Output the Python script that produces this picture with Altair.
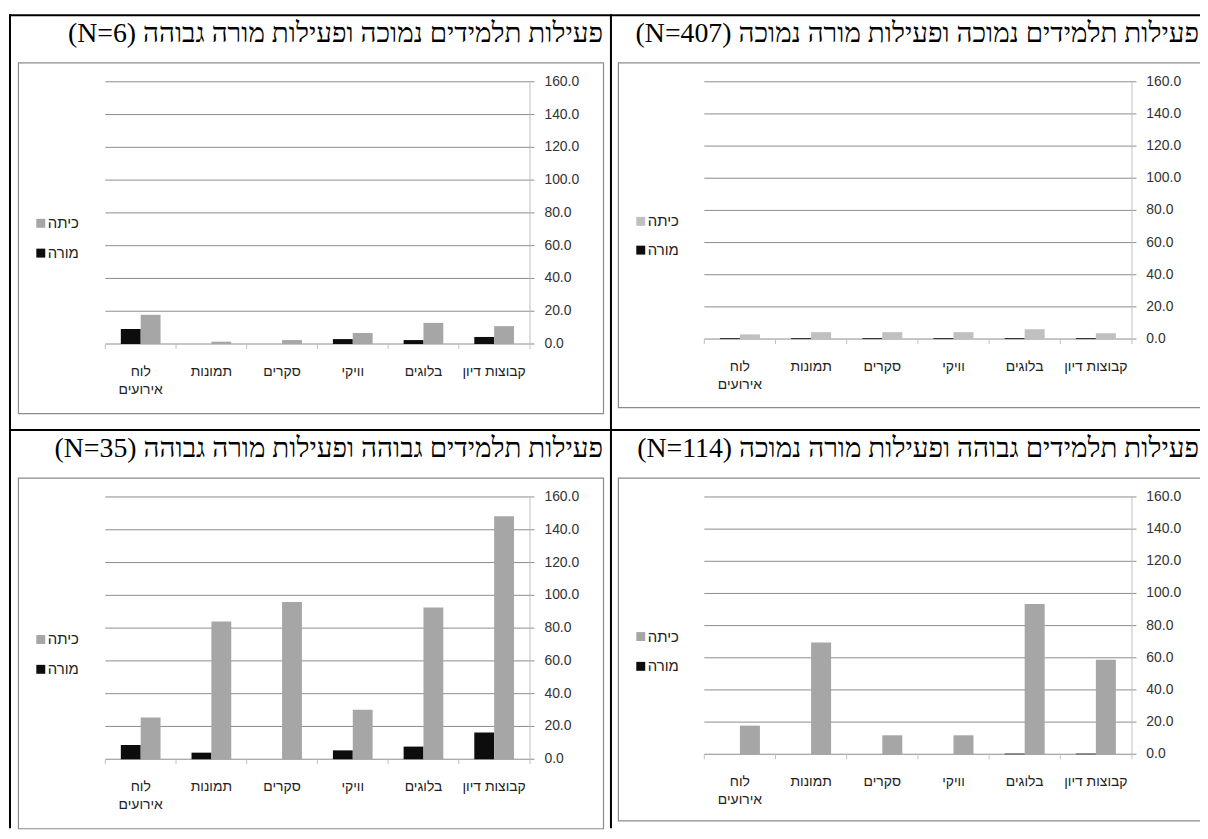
import altair as alt
import pandas as pd

# ---------------- data ----------------
categories = ['לוח אירועים', 'תמונות', 'סקרים', 'וויקי', 'בלוגים', 'קבוצות דיון']
category_labels = ['לוח\nאירועים', 'תמונות', 'סקרים', 'וויקי', 'בלוגים', 'קבוצות דיון']
series = ['מורה', 'כיתה']
legend_order = ['כיתה', 'מורה']
y_ticks = [0, 20, 40, 60, 80, 100, 120, 140, 160]

titles = [
    'פעילות תלמידים נמוכה ופעילות מורה גבוהה (N=6)',
    'פעילות תלמידים נמוכה ופעילות מורה נמוכה (N=407)',
    'פעילות תלמידים גבוהה ופעילות מורה גבוהה (N=35)',
    'פעילות תלמידים גבוהה ופעילות מורה נמוכה (N=114)',
]

# panel 1: low students / high teacher (N=6)
teacher_n6 = [9.1, 0.0, 0.0, 3.0, 2.4, 4.3]
class_n6 = [17.8, 1.4, 2.4, 6.7, 12.9, 10.9]
# panel 2: low students / low teacher (N=407)
teacher_n407 = [0.5, 0.5, 0.5, 0.5, 0.5, 0.5]
class_n407 = [2.9, 4.3, 4.3, 4.3, 6.1, 3.6]
# panel 3: high students / high teacher (N=35)
teacher_n35 = [8.7, 4.0, 0.0, 5.4, 7.7, 16.3]
class_n35 = [25.4, 84.1, 96.0, 30.2, 92.5, 148.2]
# panel 4: high students / low teacher (N=114)
teacher_n114 = [0.0, 0.0, 0.0, 0.0, 0.4, 0.4]
class_n114 = [17.8, 69.5, 11.8, 11.8, 93.4, 58.7]

panel_values = [
    (teacher_n6, class_n6),
    (teacher_n407, class_n407),
    (teacher_n35, class_n35),
    (teacher_n114, class_n114),
]

# ---------------- layout (pixels inside the chart) ----------------
layout = [
    dict(x0=98, x1=525, y0=335.5, yt=71.5, tx=599, ty=23, box=(10.5, 599.5, 52.5, 405.5),
         sqx=33, ltx=40, ly=(214, 244), gray='#A6A6A6'),
    dict(x0=701, x1=1131, y0=330.5, yt=71.5, tx=1199, ty=23, box=(614.5, 1216, 52.5, 399.5),
         sqx=637, ltx=644, ly=(212, 241), gray='#C0C0C0'),
    dict(x0=98, x1=525, y0=753.5, yt=489.5, tx=599, ty=441, box=(10.5, 599.5, 470.5, 823.5),
         sqx=33, ltx=40, ly=(633, 663), gray='#A6A6A6'),
    dict(x0=701, x1=1131, y0=748.5, yt=489.5, tx=1199, ty=441, box=(614.5, 1216, 470.5, 815.5),
         sqx=637, ltx=644, ly=(630, 660), gray='#A6A6A6'),
]

SANS = 'Liberation Sans, DejaVu Sans, sans-serif'
SERIF = 'Liberation Serif, DejaVu Serif, serif'
one = pd.DataFrame({'a': [0]})

layers = []
for i in range(4):
    L = layout[i]
    teacher, klass = panel_values[i]
    bars = pd.DataFrame({
        'cat': categories * 2,
        'series': [series[0]] * 6 + [series[1]] * 6,
        'value': teacher + klass,
    })
    xscale = alt.Scale(domain=categories, range=[L['x0'], L['x1']], paddingInner=0, paddingOuter=0)
    yscale = alt.Scale(domain=[0, 160], range=[L['y0'], L['yt']], nice=False, zero=True)
    cscale = alt.Scale(domain=series, range=['#0D0D0D', L['gray']])
    l, r, t, b = L['box']

    # chart box
    layers.append(alt.Chart(one).mark_rect(fillOpacity=0, stroke='#8C8C8C', strokeWidth=1.2).encode(
        x=alt.value(l), x2=alt.value(r), y=alt.value(t), y2=alt.value(b)))
    # title
    layers.append(alt.Chart(pd.DataFrame({'t': ['\u202b' + titles[i] + '\u202c']})).mark_text(
        align='right', baseline='middle', font=SERIF, fontSize=28, color='black').encode(
        x=alt.value(L['tx']), y=alt.value(L['ty']), text='t:N'))
    # gridlines
    grid = pd.DataFrame({'v': y_ticks})
    layers.append(alt.Chart(grid).mark_rule(color='#8C8C8C', strokeWidth=1).encode(
        y=alt.Y('v:Q', scale=yscale, axis=None), x=alt.value(L['x0']), x2=alt.value(L['x1'] + 5)))
    # y tick labels
    layers.append(alt.Chart(grid).mark_text(align='left', baseline='middle', font=SANS,
                                            fontSize=14, color='#333333').encode(
        y=alt.Y('v:Q', scale=yscale, axis=None), x=alt.value(L['x1'] + 15),
        text=alt.Text('v:Q', format='.1f')))
    # vertical axis line (right)
    layers.append(alt.Chart(one).mark_rule(color='#BFBFBF', strokeWidth=1).encode(
        x=alt.value(L['x1'] + 0.5), y=alt.value(L['yt']), y2=alt.value(L['y0'] + 5)))
    # category ticks
    cats_df = pd.DataFrame({'cat': categories, 'label': category_labels})
    layers.append(alt.Chart(cats_df).mark_rule(color='#BFBFBF', strokeWidth=1).encode(
        x=alt.X('cat:N', sort=categories, scale=xscale, bandPosition=0, axis=None),
        y=alt.value(L['y0']), y2=alt.value(L['y0'] + 5)))
    # category labels
    layers.append(alt.Chart(cats_df).mark_text(align='center', baseline='top', lineBreak='\n',
                                               lineHeight=18, font=SANS, fontSize=14,
                                               color='#222222').encode(
        x=alt.X('cat:N', sort=categories, scale=xscale, axis=None),
        y=alt.value(L['y0'] + 21), text='label:N'))
    # bars
    layers.append(alt.Chart(bars).mark_bar().encode(
        x=alt.X('cat:N', sort=categories, scale=xscale, axis=None),
        xOffset=alt.XOffset('series:N', sort=series,
                            scale=alt.Scale(domain=series, paddingInner=0, paddingOuter=0.78)),
        y=alt.Y('value:Q', scale=yscale, axis=None),
        color=alt.Color('series:N', scale=cscale, legend=None)))
    # legend
    leg = pd.DataFrame({'s': legend_order})
    lscale = alt.Scale(domain=legend_order, range=list(L['ly']), padding=0)
    layers.append(alt.Chart(leg).mark_square(size=81, opacity=1).encode(
        x=alt.value(L['sqx']), y=alt.Y('s:N', scale=lscale, axis=None),
        color=alt.Color('s:N', scale=cscale, legend=None)))
    layers.append(alt.Chart(leg).mark_text(align='left', baseline='middle', font=SANS,
                                           fontSize=15, color='#222222').encode(
        x=alt.value(L['ltx']), y=alt.Y('s:N', scale=lscale, axis=None), text='s:N'))

# table lines
for (xa, xb, ya, yb) in [(1, 1200, 4.5, 4.5), (2, 2, 3.5, 823), (607, 607, 3.5, 823), (1, 1200, 422, 422)]:
    layers.append(alt.Chart(one).mark_rule(color='black', strokeWidth=2).encode(
        x=alt.value(xa), x2=alt.value(xb), y=alt.value(ya), y2=alt.value(yb)))

chart = alt.layer(*layers).resolve_scale(
    x='independent', y='independent', color='independent', xOffset='independent'
).properties(
    width=1200, height=823, padding=0, autosize=alt.AutoSizeParams(type='none')
).configure_view(strokeWidth=0)

chart.save("out.html", embed_options={"renderer": "svg", "actions": False})
